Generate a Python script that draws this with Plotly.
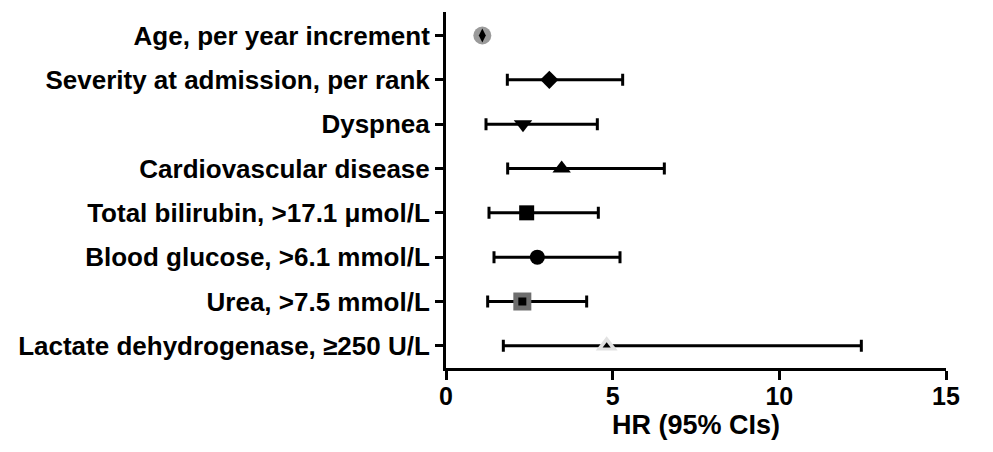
import plotly.graph_objects as go

labels = ["Age, per year increment", "Severity at admission, per rank", "Dyspnea",
          "Cardiovascular disease", "Total bilirubin, >17.1 μmol/L",
          "Blood glucose, >6.1 mmol/L", "Urea, >7.5 mmol/L",
          "Lactate dehydrogenase, ≥250 U/L"]
hr = [1.09, 3.10, 2.31, 3.47, 2.42, 2.74, 2.29, 4.82]
lo = [1.05, 1.84, 1.20, 1.85, 1.29, 1.44, 1.25, 1.72]
hi = [1.13, 5.30, 4.54, 6.55, 4.57, 5.22, 4.22, 12.46]
symbols = ["diamond-tall", "diamond", "triangle-down", "triangle-up", "square",
           "circle", "square", "triangle-up"]
sizes = [10, 14, 16, 16, 15, 15, 8, 7]
# halo markers behind some points
halo_rows = [0, 6, 7]
halo_symbols = ["circle", "square", "triangle-up"]
halo_colors = ["#9a9a9a", "#6e6e6e", "#e2e2e2"]
halo_sizes = [18, 18, 19]

ys = list(range(len(labels)))
fig = go.Figure()

for i in range(len(labels)):
    fig.add_trace(go.Scatter(
        x=[hr[i]], y=[ys[i]], mode="markers",
        marker=dict(symbol="circle", size=1, color="rgba(0,0,0,0)"),
        error_x=dict(type="data", symmetric=False,
                     array=[hi[i] - hr[i]], arrayminus=[hr[i] - lo[i]],
                     color="#000000", thickness=3, width=6),
        showlegend=False))

for k, r in enumerate(halo_rows):
    fig.add_trace(go.Scatter(
        x=[hr[r]], y=[ys[r]], mode="markers",
        marker=dict(symbol=halo_symbols[k], size=halo_sizes[k], color=halo_colors[k],
                    opacity=1, line=dict(width=0)),
        showlegend=False))

fig.add_trace(go.Scatter(
    x=hr, y=ys, mode="markers",
    marker=dict(symbol=symbols, size=sizes, color="#000000", opacity=1,
                line=dict(width=0)),
    showlegend=False))

font_family = "Liberation Sans, Arial, sans-serif"
fig.update_layout(
    width=993, height=452,
    margin=dict(l=446, r=47, t=12, b=84),
    plot_bgcolor="white", paper_bgcolor="white",
    font=dict(family=font_family, color="black", size=20, weight="bold"),
    xaxis=dict(range=[0, 15], tickvals=[0, 5, 10, 15], ticks="outside", ticklen=9,
               tickwidth=3, tickcolor="black", showline=True, linecolor="black",
               linewidth=3, showgrid=False, zeroline=False, ticklabelstandoff=-5,
               tickfont=dict(size=25, weight="bold"),
               title=dict(text="HR (95% CIs)", font=dict(size=27, weight="bold"),
                          standoff=4)),
    yaxis=dict(range=[7.5, -0.53], tickvals=ys, ticktext=labels, ticks="outside",
               ticklen=8, tickwidth=3, tickcolor="black", showline=True,
               linecolor="black", linewidth=3, showgrid=False, zeroline=False,
               tickfont=dict(size=26, weight="bold")),
)

fig.write_html("out.html")
